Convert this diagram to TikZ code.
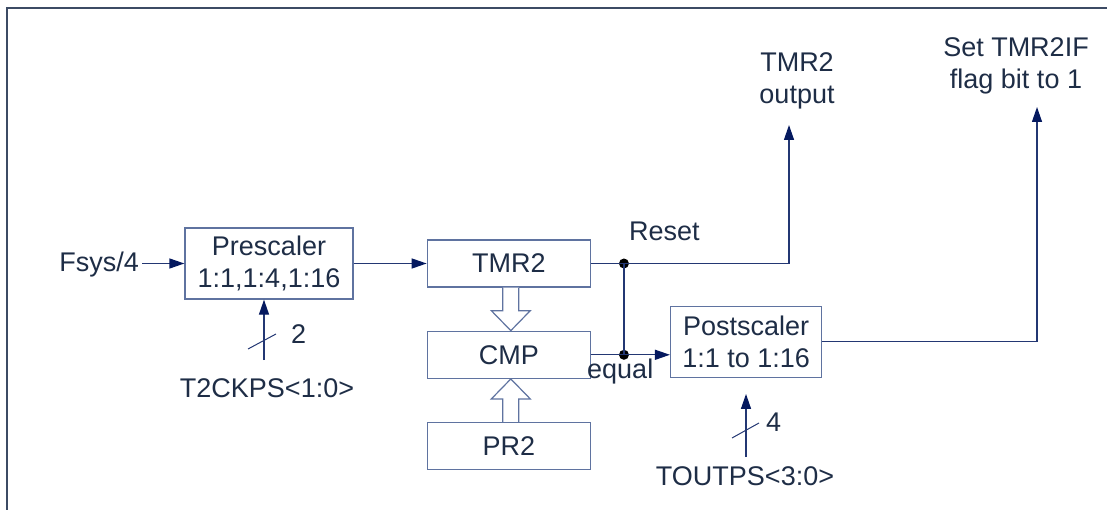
\documentclass[tikz,border=0pt]{standalone}
\usepackage{fontspec}
\setmainfont{Liberation Sans}
\usepackage{tikz}
\usetikzlibrary{arrows.meta, positioning, calc}
\definecolor{boxline}{RGB}{95, 115, 160}
\definecolor{wirecolor}{RGB}{35, 55, 115}
\definecolor{navy}{RGB}{5, 25, 95}
\definecolor{textcolor}{RGB}{30, 45, 70}
\definecolor{framecolor}{RGB}{60, 75, 100}

\begin{document}
\begin{tikzpicture}[
    x=1pt, y=-1pt,
    every node/.style={text=textcolor, font=\fontsize{27}{32}\selectfont},
    block/.style={draw=boxline, line width=1.3pt, fill=white, inner sep=0pt, align=center},
    sig/.style={inner sep=0pt},
    wire/.style={wirecolor, line width=1.3pt},
    arrow/.style={wire, -{Triangle[length=15pt, width=10pt, color=navy]}},
    hollow/.style={draw=boxline, line width=1.2pt, fill=white},
    junction/.style={circle, fill=black, inner sep=0pt, minimum size=10pt}
]
    \useasboundingbox (0,0) rectangle (1107,510);
    \draw[framecolor, line width=1.2pt] (7,510) -- (7,8) -- (1107,8);

    % Nodes
    \node[block, minimum width=168pt, minimum height=71pt] (pre) at (269,263.5) {Prescaler\\1:1,1:4,1:16};
    \node[block, minimum width=163pt, minimum height=47pt, right=73pt of pre] (tmr) {TMR2};
    \node[block, minimum width=163pt, minimum height=47pt, below=43pt of tmr] (cmp) {CMP};
    \node[block, minimum width=163pt, minimum height=47pt, below=43pt of cmp] (pr2) {PR2};
    \node[block, minimum width=151pt, minimum height=71pt, right=79pt of cmp, yshift=13pt] (post) {Postscaler\\1:1 to 1:16};
    \node[junction] (dot1) at ($(tmr.east)+(33,0)$) {};
    \node[junction] (dot2) at (dot1 |- cmp.east) {};

    % Labels
    \node[sig, anchor=base east] (fsys) at (139,272) {Fsys/4};
    \node[sig, anchor=base] (t2ck) at (267,397) {T2CKPS<1:0>};
    \node[sig, anchor=base west] (t2bits) at (291,343) {2};
    \node[sig, anchor=base] (toutps) at (745,485) {TOUTPS<3:0>};
    \node[sig, anchor=base west] (tobits) at (766,431) {4};
    \node[sig, anchor=base west] (reset) at (629,241) {Reset};
    \node[sig, anchor=base west] (equal) at (587,378) {equal};
    \node[sig, align=center] (tmrout) at (797,81) {TMR2\\output};
    \node[sig, align=center] (flagout) at (1016,66) {Set TMR2IF\\flag bit to 1};
    \coordinate (outtip) at (789,125);
    \coordinate (iftip) at (1037,107);
    \coordinate (t2in) at (264,360);
    \coordinate (toin) at (746,457);

    % Arrows
    \draw[arrow, shorten <=3pt] (fsys.east |- pre.west) -- (pre.west);
    \draw[arrow] (pre.east) -- (tmr.west);
    \draw[wire] (tmr.east) -- (dot1.center);
    \draw[arrow] (dot1.center) -| (outtip);
    \draw[wire] (dot1.center) -- (dot2.center);
    \draw[arrow] (cmp.east) -- (post.west |- cmp.east);
    \draw[arrow] (post.east) -| (iftip);
    \draw[arrow] (t2in) -- (t2in |- pre.south);
    \draw[arrow, shorten >=16pt] (toin) -- (toin |- post.south);
    \draw[wire, line width=1pt] ($(t2in)+(-16,-11)$) -- ($(t2in)+(12,-26)$);
    \draw[wire, line width=1pt] ($(toin)+(-14,-19)$) -- ($(toin)+(13,-34)$);

    % Data paths
    \draw[hollow] ([xshift=-6pt]tmr.south) -- ++(0,23) -- ++(-11.5,0) -- ([xshift=2pt]cmp.north)
        -- ([xshift=21.5pt,yshift=20pt]cmp.north) -- ++(-11.5,0) -- ([xshift=10pt]tmr.south);
    \draw[hollow] ([xshift=-6pt]pr2.north) -- ++(0,-23) -- ++(-11.5,0) -- ([xshift=2pt]cmp.south)
        -- ([xshift=21.5pt,yshift=-20pt]cmp.south) -- ++(-11.5,0) -- ([xshift=10pt]pr2.north);
\end{tikzpicture}
\end{document}
